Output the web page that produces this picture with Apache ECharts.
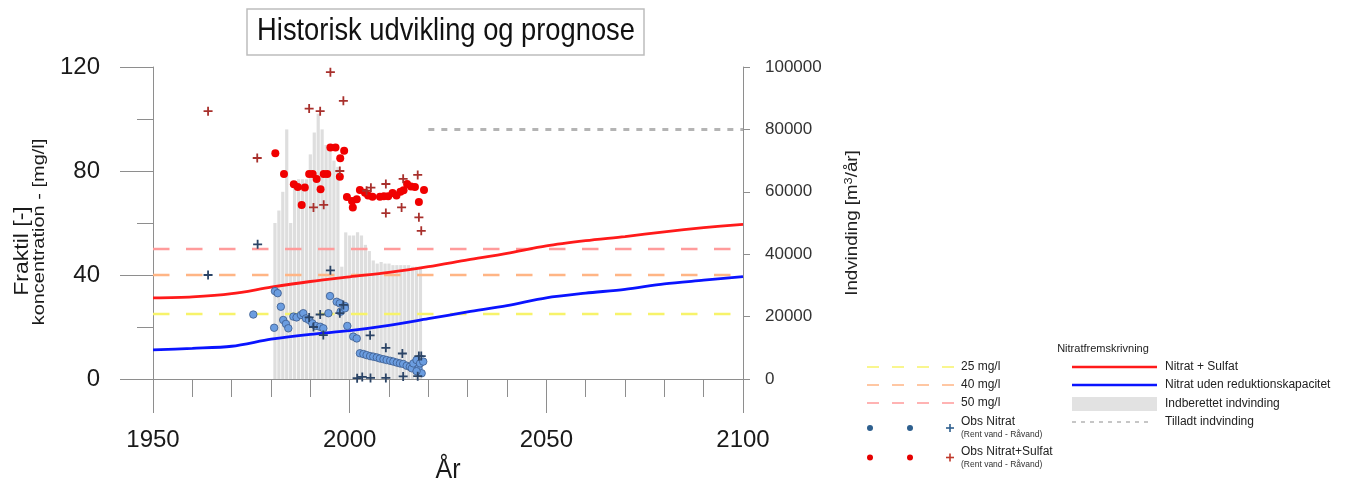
<!DOCTYPE html>
<html>
<head>
<meta charset="utf-8">
<script src="https://cdn.jsdelivr.net/npm/echarts@6/dist/echarts.min.js"></script>
<style>
html,body{margin:0;padding:0;background:#fff;}
#chart{width:1349px;height:488px;}
</style>
</head>
<body>
<div id="chart"></div>
<script>
// ---------- DATA ----------
const xTicks = [1950, 2000, 2050, 2100];
const leftTicks = [0, 40, 80, 120];
const rightTicks = [0, 20000, 40000, 60000, 80000, 100000];

const lineYears = [1950,1960,1970,1980,1990,2000,2010,2020,2030,2040,2050,2060,2070,2080,2090,2100];
const nitratSulfat = [31.2,31.6,32.8,35.3,37.5,39.3,41.0,43.2,45.8,48.3,51.2,53.2,54.8,56.6,58.2,59.5];
const nitratUden   = [11.2,11.8,12.6,15.3,17.2,18.6,20.6,23.2,25.8,28.2,31.2,33.0,34.5,36.6,38.0,39.4];

const refYears = [1950, 2100];
const ref25 = [25, 25];
const ref40 = [40, 40];
const ref50 = [50, 50];

const tilladtYears = [2020, 2100];
const tilladtValues = [80000, 80000];

const barYears = [1981,1982,1983,1984,1985,1986,1987,1988,1989,1990,1991,1992,1993,1994,1995,1996,1997,1998,1999,2000,
                  2001,2002,2003,2004,2005,2006,2007,2008,2009,2010,2011,2012,2013,2014,2015,2016,2017,2018];
const barValues = [50000,54000,60000,80000,50000,63000,64000,64000,64000,72000,79000,85000,80000,75000,74000,70000,68000,36000,47000,46000,
                   46000,47000,46000,43000,41000,38000,37000,37500,37000,37000,36500,36500,36500,36500,36500,36000,36000,36000];

const redCircles = [[1981.1,86.8],[1983.3,78.8],[1985.8,74.9],[1986.8,73.8],[1987.8,66.9],[1988.6,73.7],[1989.7,78.8],[1990.6,78.8],
  [1991.6,76.9],[1992.6,73],[1993.4,78.8],[1994.3,78.8],[1995.1,89],[1996.4,89],[1997.5,77.8],[1997.6,84.9],[1998.6,87.8],
  [1999.3,70],[2000.6,68.5],[2000.8,66],[2001.8,69.1],[2002.6,72.7],[2003.9,71.6],[2004.7,70.6],[2005.8,70.1],[2007.7,70.1],
  [2008.7,70.3],[2009.8,70.3],[2010.9,71.5],[2011.9,70.6],[2012.9,72],[2013.7,72.6],[2014.6,75],[2015.6,74],[2016.6,73.8],
  [2017.6,68.1],[2018.9,72.7]];
const redPlus = [[1964,103],[1976.5,85],[1989.7,104],[1992.5,103],[1995.1,118],[1998.4,107],[1990.8,66],[1993.4,67],[1997.5,80],
  [2004.3,72.4],[2005.4,73.6],[2009.2,75],[2009.2,63.8],[2013.6,77],[2013.2,66],[2017.3,78.5],[2017.6,62.2],[2018.2,57]];
const blueCircles = [[1975.5,24.8],[1980.8,19.7],[1981,33.8],[1981.7,33],[1982.5,27.8],[1983.1,22.7],[1983.8,21.2],[1984.4,19.5],
  [1985.7,24],[1986.5,23.7],[1987.6,24.6],[1988.2,25.3],[1988.9,23.3],[1989.7,22.7],[1990.5,21.4],[1991.4,20.4],[1992.5,20.1],
  [1993.3,19.5],[1994.6,25.3],[1995,31.9],[1996.7,29.7],[1997.5,29.1],[1997.7,25.9],[1998.8,28.1],[1998.8,27.2],[1999.4,20.4],
  [2000.9,16.3],[2001.8,15.6],[2002.6,9.9],[2003.5,9.6],[2004.3,9.2],[2005.2,8.8],[2006,8.6],[2006.9,8.3],[2007.7,7.9],
  [2008.6,7.6],[2009.4,7.3],[2010.3,7],[2011.1,6.7],[2012,6.3],[2012.8,6],[2013.6,5.8],[2014.5,5.1],[2015.3,4.7],[2015.8,4.1],
  [2016.2,6],[2017,7.3],[2017.5,4.1],[2017.9,6],[2018.3,2.2],[2018.7,6.7],[2017,3]];
const bluePlus = [[1964,40],[1976.6,51.8],[1995.1,41.8],[1989.7,23.7],[1992.5,24.8],[1990.8,20],[1993.3,16.9],[1997.5,25.3],
  [1998.4,28.5],[2005.2,16.8],[2009.2,12],[2013.4,9.8],[2017.6,8.8],[2018.2,8.8],[2001.9,0.3],[2003.2,0.8],[2005.3,0.4],
  [2009.2,0.4],[2013.6,1],[2017.3,1.1]];

// ---------- CHART ----------
const FONT = '"Liberation Sans", Arial, sans-serif';
const PLUS = 'path://M4,0H6V4H10V6H6V10H4V6H0V4H4Z';
const axisGray = '#8e8e8e';
const zip = (xs, ys) => xs.map((x, i) => [x, ys[i]]);
const plain = v => String(v);

const chart = echarts.init(document.getElementById('chart'), null, {renderer: 'canvas'});

const legendLeftX = 961, legendRightX = 1165;
const graphic = [];
// Title box
graphic.push({type:'rect', shape:{x:247,y:9,width:397,height:46}, style:{fill:'#fff',stroke:'#bdbdbd',lineWidth:1.5}, z:10});
graphic.push({type:'text', x:446, y:32, scaleY:1.12, style:{text:'Historisk udvikling og prognose', font:'27.3px '+FONT, fill:'#111', textAlign:'center', textVerticalAlign:'middle'}, z:11});
// Left axis titles
graphic.push({type:'text', x:22, y:251, rotation:Math.PI/2, scaleX:1.15, style:{text:'Fraktil [-]', font:'20px '+FONT, fill:'#1a1a1a', textAlign:'center', textVerticalAlign:'middle'}});
graphic.push({type:'text', x:40, y:232, rotation:Math.PI/2, scaleX:1.25, style:{text:'koncentration - [mg/l]', font:'16px '+FONT, fill:'#1a1a1a', textAlign:'center', textVerticalAlign:'middle'}});
// Right axis title
graphic.push({type:'text', x:853, y:223, rotation:Math.PI/2, scaleX:1.17, style:{text:'Indvinding [m{s|3}/år]', font:'16px '+FONT, fill:'#222', textAlign:'center', textVerticalAlign:'middle', rich:{s:{fontSize:11, verticalAlign:'top', padding:[0,0,8,0], fontFamily:FONT}}}});
// X axis title
graphic.push({type:'text', x:448, y:470, scaleY:1.1, style:{text:'År', font:'25px '+FONT, fill:'#1a1a1a', textAlign:'center', textVerticalAlign:'middle'}});

// Legend
graphic.push({type:'text', x:1103, y:349, style:{text:'Nitratfremskrivning', font:'11px '+FONT, fill:'#222', textAlign:'center', textVerticalAlign:'middle'}});
const dashRows = [['25 mg/l','#f7f36a',367],['40 mg/l','#ffb585',385],['50 mg/l','#ff9b9b',403]];
dashRows.forEach(([t,c,y]) => {
  graphic.push({type:'line', shape:{x1:867,y1:y,x2:955,y2:y}, style:{stroke:c,lineWidth:1.6,lineDash:[12,13]}});
  graphic.push({type:'text', x:legendLeftX, y:y, style:{text:t, font:'12px '+FONT, fill:'#222', textVerticalAlign:'middle'}});
});
[['#2e5f8e',428,'Obs Nitrat'],['#e60000',457.5,'Obs Nitrat+Sulfat']].forEach(([c,y,t]) => {
  graphic.push({type:'circle', shape:{cx:870,cy:y,r:3}, style:{fill:c}});
  graphic.push({type:'circle', shape:{cx:910,cy:y,r:3}, style:{fill:c}});
  const pc = c === '#2e5f8e' ? '#2e5f8e' : '#c0392b';
  graphic.push({type:'line', shape:{x1:946,y1:y,x2:954,y2:y}, style:{stroke:pc,lineWidth:1.6}});
  graphic.push({type:'line', shape:{x1:950,y1:y-4,x2:950,y2:y+4}, style:{stroke:pc,lineWidth:1.6}});
  graphic.push({type:'text', x:legendLeftX, y:y-6, style:{text:t, font:'12px '+FONT, fill:'#222', textVerticalAlign:'middle'}});
  graphic.push({type:'text', x:legendLeftX, y:y+7, style:{text:'(Rent vand - Råvand)', font:'8.5px '+FONT, fill:'#333', textVerticalAlign:'middle'}});
});
graphic.push({type:'line', shape:{x1:1072,y1:367,x2:1157,y2:367}, style:{stroke:'#ff1a1a',lineWidth:2.5}});
graphic.push({type:'line', shape:{x1:1072,y1:385,x2:1157,y2:385}, style:{stroke:'#0a14ff',lineWidth:2.5}});
graphic.push({type:'rect', shape:{x:1072,y:397,width:85,height:14}, style:{fill:'#e2e2e2'}});
graphic.push({type:'line', shape:{x1:1072,y1:422,x2:1153,y2:422}, style:{stroke:'#b4b4b4',lineWidth:1.5,lineDash:[4,5]}});
[['Nitrat + Sulfat',367],['Nitrat uden reduktionskapacitet',385],['Indberettet indvinding',404],['Tilladt indvinding',422]].forEach(([t,y]) => {
  graphic.push({type:'text', x:legendRightX, y:y, style:{text:t, font:'12px '+FONT, fill:'#222', textVerticalAlign:'middle'}});
});

const option = {
  animation: false,
  backgroundColor: '#fff',
  textStyle: {fontFamily: FONT},
  grid: {left:153, right:606, top:67, bottom:109, containLabel:false},
  xAxis: {
    type:'value', min:xTicks[0], max:xTicks[xTicks.length-1], interval:50,
    axisLine:{show:true, lineStyle:{color:axisGray, width:1}},
    axisTick:{show:true, length:34, lineStyle:{color:axisGray}},
    minorTick:{show:true, splitNumber:5, length:18, lineStyle:{color:axisGray}},
    axisLabel:{fontSize:24, color:'#1a1a1a', margin:49, fontFamily:FONT, formatter:plain},
    splitLine:{show:false}
  },
  yAxis: [{
    type:'value', min:leftTicks[0], max:leftTicks[leftTicks.length-1], interval:40, position:'left',
    axisLine:{show:true, lineStyle:{color:axisGray, width:1}},
    axisTick:{show:true, length:33, lineStyle:{color:axisGray}},
    minorTick:{show:true, splitNumber:2, length:16, lineStyle:{color:axisGray}},
    axisLabel:{fontSize:24, color:'#1a1a1a', margin:53, fontFamily:FONT, formatter:plain},
    splitLine:{show:false}
  },{
    type:'value', min:rightTicks[0], max:rightTicks[rightTicks.length-1], interval:20000, position:'right',
    axisLine:{show:true, lineStyle:{color:axisGray, width:1}},
    axisTick:{show:true, length:7, lineStyle:{color:axisGray}},
    axisLabel:{fontSize:17, color:'#333', margin:22, fontFamily:FONT, formatter:plain},
    splitLine:{show:false}
  }],
  graphic: graphic,
  series: [
    {name:'Indberettet indvinding', type:'bar', yAxisIndex:1, barWidth:3.2, z:1,
     itemStyle:{color:'#dedede'}, data: zip(barYears, barValues)},
    {name:'Tilladt indvinding', type:'line', yAxisIndex:1, showSymbol:false, z:2,
     lineStyle:{color:'#b4b4b4', width:3, type:[6,7]}, data: zip(tilladtYears, tilladtValues)},
    {name:'25 mg/l', type:'line', showSymbol:false, z:2, lineStyle:{color:'#f7f36a', width:2.6, type:[16.5,16.5]}, data: zip(refYears, ref25)},
    {name:'40 mg/l', type:'line', showSymbol:false, z:2, lineStyle:{color:'#ffb585', width:2.6, type:[16.5,16.5]}, data: zip(refYears, ref40)},
    {name:'50 mg/l', type:'line', showSymbol:false, z:2, lineStyle:{color:'#ff9b9b', width:2.6, type:[16.5,16.5]}, data: zip(refYears, ref50)},
    {name:'Nitrat + Sulfat', type:'line', showSymbol:false, smooth:0.3, z:3, lineStyle:{color:'#ff1a1a', width:2.8}, data: zip(lineYears, nitratSulfat)},
    {name:'Nitrat uden reduktionskapacitet', type:'line', showSymbol:false, smooth:0.3, z:3, lineStyle:{color:'#0a14ff', width:2.8}, data: zip(lineYears, nitratUden)},
    {name:'Obs Nitrat+Sulfat', type:'scatter', symbol:'circle', symbolSize:8, z:4, itemStyle:{color:'#f00000', opacity:1}, data: redCircles},
    {name:'Obs Nitrat+Sulfat plus', type:'scatter', symbol:PLUS, symbolSize:9, z:5, itemStyle:{color:'#a8302c', opacity:1}, data: redPlus},
    {name:'Obs Nitrat', type:'scatter', symbol:'circle', symbolSize:7.5, z:4, itemStyle:{color:'#6b9de0', borderColor:'#3b5b8c', borderWidth:0.8, opacity:1}, data: blueCircles},
    {name:'Obs Nitrat plus', type:'scatter', symbol:PLUS, symbolSize:9, z:5, itemStyle:{color:'#2b4466', opacity:1}, data: bluePlus}
  ]
};
chart.setOption(option);
</script>
</body>
</html>
